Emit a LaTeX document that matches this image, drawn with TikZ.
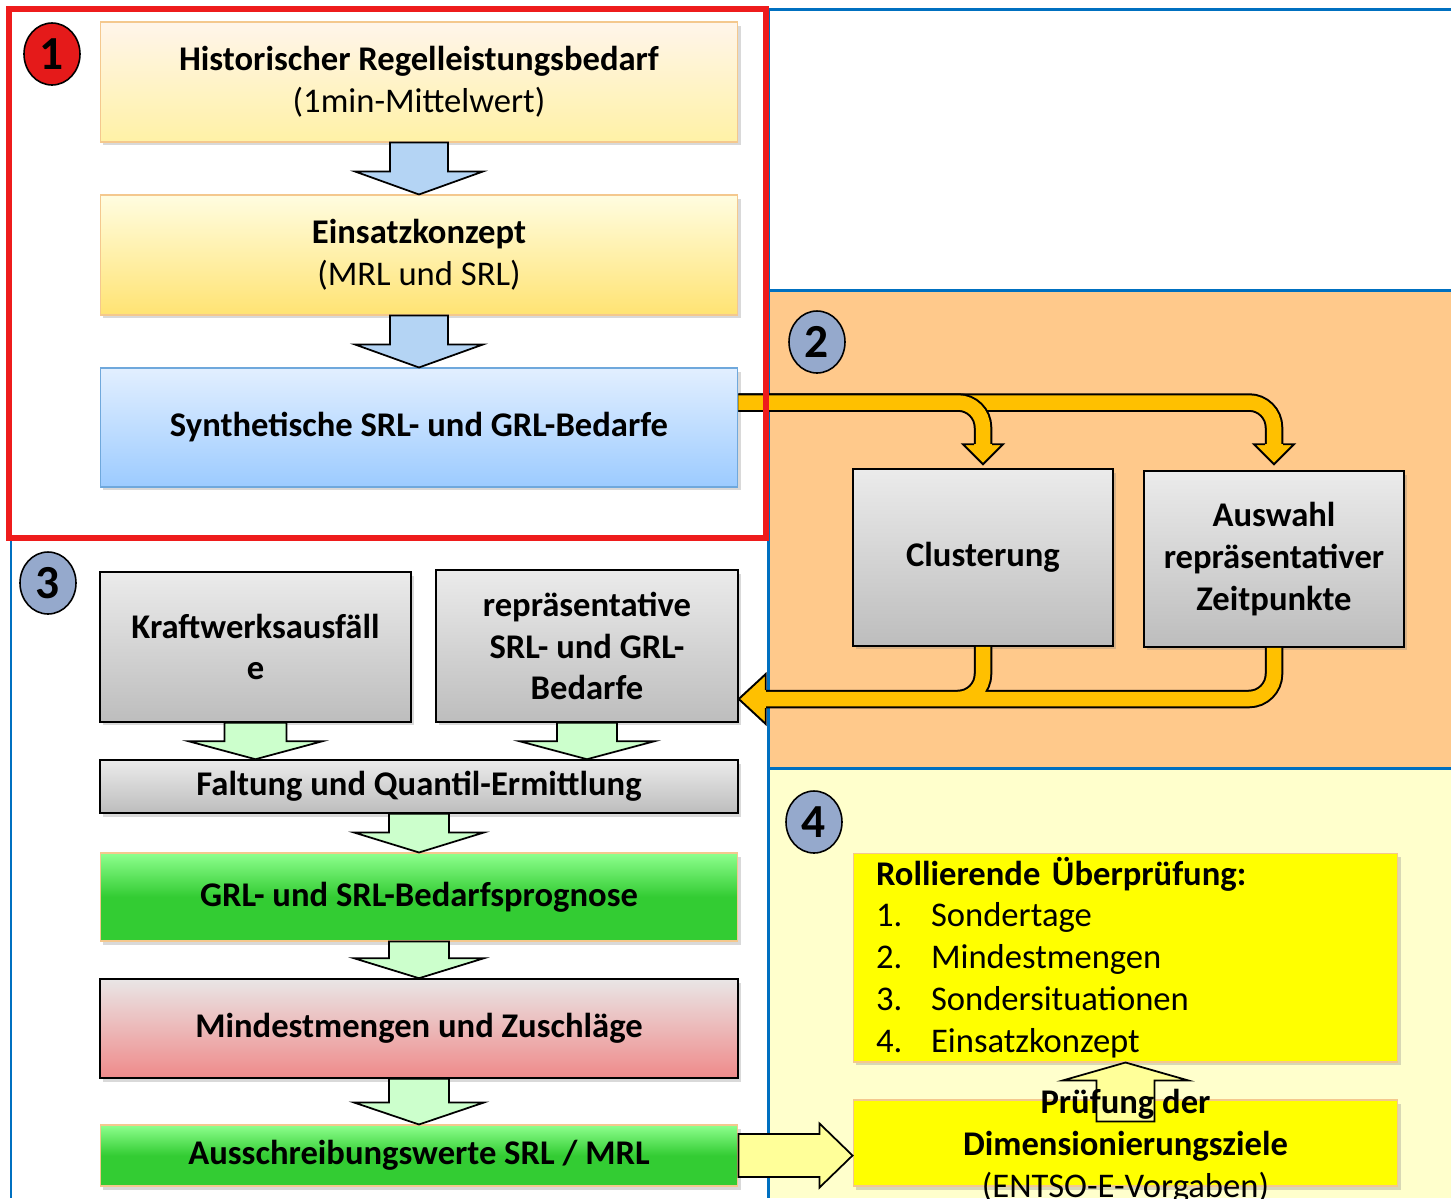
\documentclass[tikz,border=0pt]{standalone}
\usepackage{fontspec}
\setmainfont{Carlito}
\usetikzlibrary{positioning,calc,shadows,shapes.geometric}

\definecolor{panelblue}{HTML}{0070C0}
\definecolor{redframe}{HTML}{EE1C1C}
\definecolor{orangebg}{HTML}{FFC98B}
\definecolor{yellowbg}{HTML}{FFFFCC}
\definecolor{bandorange}{HTML}{FFC000}
\definecolor{badgeblue}{HTML}{95A9CC}
\definecolor{badgered}{HTML}{E51A1A}
\definecolor{tanline}{HTML}{F4C88E}
\definecolor{grayhi}{HTML}{EBEBEB}
\definecolor{graylo}{HTML}{BDBDBD}
\definecolor{greenhi}{HTML}{8EFF8E}
\definecolor{greenlo}{HTML}{33CC33}
\definecolor{bluehi}{HTML}{E2EFFF}
\definecolor{bluelo}{HTML}{9CCBFF}
\definecolor{blueline}{HTML}{6FA8DC}
\definecolor{redhi}{HTML}{E9E6E6}
\definecolor{redlo}{HTML}{EF8A8A}
\definecolor{arrowblue}{HTML}{B4D4F4}
\definecolor{arrowgreen}{HTML}{CCFFCC}
\definecolor{arrowyellow}{HTML}{FFFF99}
\definecolor{boxyellow}{HTML}{FFFF00}

\newcommand\boxfont{\fontsize{19.7}{23.8}\selectfont\bfseries}
\newcommand\badgefont{\fontsize{27}{27}\selectfont\bfseries}

% block arrow: fill, start, tip, shaft half width, head half width, head length
\newcommand\blockarrow[6]{%
  \coordinate (ba-s) at #2;
  \coordinate (ba-t) at #3;
  \coordinate (ba-h) at ($(ba-t)!#6!(ba-s)$);
  \filldraw[fill=#1, draw=black, line width=1pt, line join=miter]
    ($(ba-s)!#4!90:(ba-t)$) -- ($(ba-h)!#4!90:(ba-t)$) -- ($(ba-h)!#5!90:(ba-t)$)
    -- (ba-t) -- ($(ba-h)!#5!-90:(ba-t)$) -- ($(ba-h)!#4!-90:(ba-t)$)
    -- ($(ba-s)!#4!-90:(ba-t)$) -- cycle;
}

\begin{document}
\begin{tikzpicture}[x=0.02cm, y=-0.02cm,
  box/.style={draw, align=center, inner sep=0pt, font=\boxfont, line width=0.6pt,
    drop shadow={opacity=0.3, shadow xshift=0.06cm, shadow yshift=-0.07cm}},
  wide/.style={box, minimum width=12.76cm},
  graybox/.style={box, top color=grayhi, bottom color=graylo, draw=black, line width=0.9pt},
  greenbox/.style={wide, top color=greenhi, bottom color=greenlo, middle color=greenlo, draw=tanline},
  yellowbox/.style={box, fill=boxyellow, draw=tanline, minimum width=10.9cm},
  badge/.style={ellipse, draw, line width=0.9pt, minimum width=1.12cm, minimum height=1.24cm,
    inner sep=0pt, font=\badgefont},
  panel/.style={draw=panelblue, line width=0.06cm},
  bandout/.style={line width=0.37cm, draw=black, rounded corners=0.5cm},
  bandin/.style={line width=0.29cm, draw=bandorange, rounded corners=0.5cm},
  bandhead/.style={fill=bandorange, draw=black, line width=1.1pt, line join=miter}
]
\useasboundingbox (0,0) rectangle (1451,1198);

% panels
\fill[orangebg] (768,290) rectangle (1451,768);
\fill[yellowbg] (768,768) rectangle (1451,1198);
\draw[panel] (1451,9) -- (768,9) -- (768,1198);
\draw[panel] (768,290) -- (1451,290);
\draw[panel] (768,768) -- (1451,768);
\draw[panel] (11,538) -- (11,1198);

% step 1
\node[wide, minimum height=2.4cm, top color=orange!8!white, bottom color=orange!30!yellow!35!white, draw=tanline]
  (hist) at (419,82) {Historischer Regelleistungsbedarf\\\mdseries(1min-Mittelwert)};
\node[wide, minimum height=2.4cm, top color=orange!15!yellow!12!white, bottom color=orange!40!yellow!55!white, draw=tanline]
  (einsatz) at (419,255) {Einsatzkonzept\\\mdseries(MRL und SRL)};
\node[wide, minimum height=2.38cm, top color=bluehi, bottom color=bluelo, draw=blueline]
  (synth) at (419,427.5) {Synthetische SRL- und GRL-Bedarfe};

\blockarrow{arrowblue}{(hist.south)}{(einsatz.north)}{0.58cm}{1.28cm}{0.46cm}
\blockarrow{arrowblue}{(einsatz.south)}{(synth.north)}{0.58cm}{1.28cm}{0.46cm}

% step 2
\node[graybox, minimum width=5.2cm, minimum height=3.54cm] (cluster) at (983,557.5) {Clusterung};
\node[graybox, minimum width=5.2cm, minimum height=3.52cm] (auswahl) at (1274,559) {Auswahl\\repräsentativer\\Zeitpunkte};

% step 3
\node[graybox, minimum width=6.22cm, minimum height=3cm] (kraft) at (255.5,647) {Kraftwerksausfäll\\e};
\node[graybox, minimum width=6.04cm, minimum height=3.04cm] (reprae) at (587,646) {repräsentative\\SRL- und GRL-\\Bedarfe};
\node[graybox, minimum width=12.76cm, minimum height=1.06cm] (faltung) at (419,786.5) {Faltung und Quantil-Ermittlung};
\node[greenbox, minimum height=1.76cm] (prognose) at (419,897) {GRL- und SRL-Bedarfsprognose};
\node[wide, minimum height=1.98cm, top color=redhi, bottom color=redlo, draw=black, line width=0.9pt]
  (mindest) at (419,1028.5) {Mindestmengen und Zuschläge};
\node[greenbox, minimum height=1.22cm] (ausschr) at (419,1155.5) {Ausschreibungswerte SRL / MRL};

\blockarrow{arrowgreen}{(kraft.south)}{(kraft.south |- faltung.north)}{0.62cm}{1.34cm}{0.36cm}
\blockarrow{arrowgreen}{(reprae.south)}{(reprae.south |- faltung.north)}{0.6cm}{1.35cm}{0.36cm}
\blockarrow{arrowgreen}{(faltung.south)}{(prognose.north)}{0.6cm}{1.3cm}{0.4cm}
\blockarrow{arrowgreen}{(prognose.south)}{(mindest.north)}{0.6cm}{1.3cm}{0.4cm}
\blockarrow{arrowgreen}{(mindest.south)}{(ausschr.north)}{0.6cm}{1.3cm}{0.44cm}

% step 4
\node[yellowbox, minimum height=4.18cm, inner xsep=0.46cm, text width=9.98cm, align=left] (roll) at (1125.5,957.5)
  {Rollierende Überprüfung:\\\mdseries
   \makebox[1.1cm][l]{1.}Sondertage\\
   \makebox[1.1cm][l]{2.}Mindestmengen\\
   \makebox[1.1cm][l]{3.}Sondersituationen\\
   \makebox[1.1cm][l]{4.}Einsatzkonzept};
\node[yellowbox, minimum height=1.72cm] (pruef) at (1125.5,1143) {};
\blockarrow{arrowyellow}{($(pruef.north)+(0,22)$)}{(roll.south)}{0.58cm}{1.26cm}{0.36cm}
\node[align=center, font=\boxfont] (pruefTxt) at ($(pruef.center)+(0,3)$)
  {Prüfung der\\Dimensionierungsziele\\\mdseries(ENTSO-E-Vorgaben)};
\blockarrow{arrowyellow}{(ausschr.east)}{(pruef.west |- ausschr.east)}{0.43cm}{0.64cm}{0.66cm}

% orange bands
\coordinate (tapS) at ($(synth.east)+(0,-25)$);
\coordinate (tapE) at ($(reprae.east)+(0,53)$);
\draw[bandout] (tapS) -- (auswahl.north |- tapS) -- ($(auswahl.north)+(0,-26)$);
\draw[bandin] (tapS) -- (auswahl.north |- tapS) -- ($(auswahl.north)+(0,-26)$);
\filldraw[bandhead] ($(auswahl.north)+(-9,-26)$) -- ++(-11,0) -- ++(20,20) -- ++(20,-20) -- ++(-11,0);
\draw[bandout] (tapS) -- (cluster.north |- tapS) -- ($(cluster.north)+(0,-24)$);
\draw[bandin] (tapS) -- (cluster.north |- tapS) -- ($(cluster.north)+(0,-24)$);
\filldraw[bandhead] ($(cluster.north)+(-9,-24)$) -- ++(-11,0) -- ++(20,20) -- ++(20,-20) -- ++(-11,0);

\draw[bandout] (auswahl.south) -- (auswahl.south |- tapE) -- ($(tapE)+(27,0)$)
  (cluster.south) -- (cluster.south |- tapE) -- ++(-40,0);
\draw[bandin] (auswahl.south) -- (auswahl.south |- tapE) -- ($(tapE)+(27,0)$)
  (cluster.south) -- (cluster.south |- tapE) -- ++(-40,0);
\filldraw[bandhead] ($(tapE)+(27,-9)$) -- ++(0,-16) -- ++(-27,25) -- ++(27,25) -- ++(0,-16);

% badges and frame
\node[badge, fill=badgered] (b1) at (52,54) {1};
\node[badge, fill=badgeblue] (b2) at (817,342) {2};
\node[badge, fill=badgeblue] (b3) at (48,583) {3};
\node[badge, fill=badgeblue] (b4) at (814,822) {4};
\draw[redframe, line width=0.12cm] (9,9) rectangle (766,538);
\end{tikzpicture}
\end{document}
